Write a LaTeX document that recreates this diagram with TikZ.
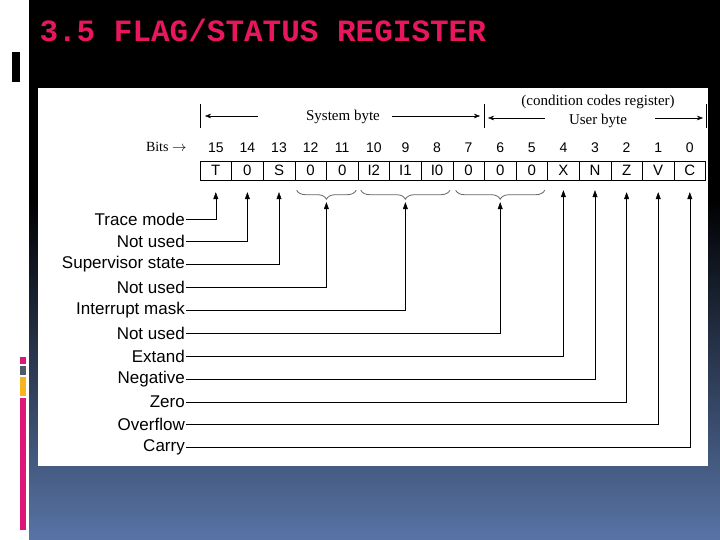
\documentclass[tikz,border=0pt]{standalone}
\usepackage{fontspec}
\setmainfont{Liberation Sans}
\newfontfamily\serifed{Liberation Serif}
\newfontfamily\titlefont{Liberation Mono}
\usetikzlibrary{arrows.meta,positioning,decorations.pathreplacing}
\definecolor{titlered}{RGB}{232,23,93}
\definecolor{slateblue}{RGB}{88,116,166}
\definecolor{barpink}{RGB}{222,22,120}
\definecolor{bargray}{RGB}{80,90,100}
\definecolor{baryellow}{RGB}{246,180,30}
\tikzset{
  cellbox/.style={draw,minimum width=31.6pt,minimum height=19pt,inner sep=0pt,font=\fontsize{15}{15}\selectfont},
  bitnum/.style={font=\fontsize{14}{14}\selectfont},
  flaglabel/.style={anchor=east,inner sep=1pt,font=\fontsize{17}{17}\selectfont},
  tipline/.style={-{Triangle[length=7pt,width=5pt]},thin},
  bytebrace/.style={decorate,decoration={brace,mirror,amplitude=9pt},gray!80!black,thick}
}
\begin{document}
\begin{tikzpicture}[x=1pt,y=-1pt]
  \useasboundingbox (0,0) rectangle (720,540);
  % slide background
  \fill[black] (29,0) rectangle (720,200);
  \shade[top color=black,bottom color=slateblue] (29,199.5) rectangle (720,540);
  \fill[black] (12,52) rectangle (20,82);
  \fill[barpink] (20,357) rectangle (26,364);
  \fill[bargray] (20,366) rectangle (26,375);
  \fill[baryellow] (20,377) rectangle (26,396);
  \fill[barpink] (20,398) rectangle (26,530);
  \node[anchor=west,text=titlered,font=\titlefont\bfseries\fontsize{31}{31}\selectfont] (title) at (36,30) {3.5 FLAG/STATUS REGISTER};
  \fill[white] (38,88) rectangle (708,466);

  % register cells
  \foreach \b/\t [count=\i from 0] in {15/T,14/0,13/S,12/0,11/0,10/I2,9/I1,8/I0,7/0,6/0,5/0,4/X,3/N,2/Z,1/V,0/C} {
    \node[cellbox] (c\b) at (215.8+31.6*\i,170.5) {\t};
    \node[bitnum] (n\b) at (215.8+31.6*\i,148) {\b};
  }
  \node[anchor=east,font=\serifed\fontsize{14}{14}\selectfont] (bits) at (190,147) {Bits $\rightarrow$};

  % byte header
  \coordinate (h0) at (200,104); \coordinate (h1) at (484,104); \coordinate (h2) at (706,104);
  \draw (h0) -- ++(0,24); \draw (h1) -- ++(0,24); \draw (h2) -- ++(0,24);
  \node[font=\serifed\fontsize{15}{15}\selectfont] (sysb) at (343,117) {System byte};
  \node[font=\serifed\fontsize{15}{15}\selectfont] (userb) at (598,121) {User byte};
  \node[font=\serifed\fontsize{15}{15}\selectfont] (ccr) at (598,102) {(condition codes register)};
  \draw[-{Stealth[length=6pt]}] (258,116) -- (205,116);
  \draw[-{Stealth[length=6pt]}] (392,116) -- (480,116);
  \draw[-{Stealth[length=6pt]}] (545,118) -- (488,118);
  \draw[-{Stealth[length=6pt]}] (655,118) -- (703,118);

  % braces under grouped bits
  \draw[bytebrace] ([xshift=2pt,yshift=-10pt]c12.south west) -- coordinate[yshift=-12pt] (g1) ([xshift=-2pt,yshift=-10pt]c11.south east);
  \draw[bytebrace] ([xshift=3pt,yshift=-10pt]c10.south west) -- coordinate[yshift=-12pt] (g2) ([xshift=-3pt,yshift=-10pt]c8.south east);
  \draw[bytebrace] ([xshift=3pt,yshift=-10pt]c7.south west) -- coordinate[yshift=-12pt] (g3) ([xshift=-3pt,yshift=-10pt]c5.south east);

  % flag labels
  \foreach \name/\txt/\y in {lt/Trace mode/219,lu1/Not used/241,ls/Supervisor state/264,lu2/Not used/287,li/Interrupt mask/310,lu3/Not used/333,lx/Extand/356,ln/Negative/379,lz/Zero/402,lo/Overflow/424,lc/Carry/447}
    \node[flaglabel] (\name) at (186,\y) {\txt};

  % connectors
  \draw[tipline] (lt.east) -| ([yshift=-12pt]c15.south);
  \draw[tipline] (lu1.east) -| ([yshift=-12pt]c14.south);
  \draw[tipline] (ls.east) -| ([yshift=-12pt]c13.south);
  \draw[tipline] (lu2.east) -| (g1);
  \draw[tipline] (li.east) -| (g2);
  \draw[tipline] (lu3.east) -| (g3);
  \draw[tipline] (lx.east) -| ([yshift=-10pt]c4.south);
  \draw[tipline] (ln.east) -| ([yshift=-10pt]c3.south);
  \draw[tipline] (lz.east) -| ([yshift=-12pt]c2.south);
  \draw[tipline] (lo.east) -| ([yshift=-12pt]c1.south);
  \draw[tipline] (lc.east) -| ([yshift=-12pt]c0.south);
\end{tikzpicture}
\end{document}
